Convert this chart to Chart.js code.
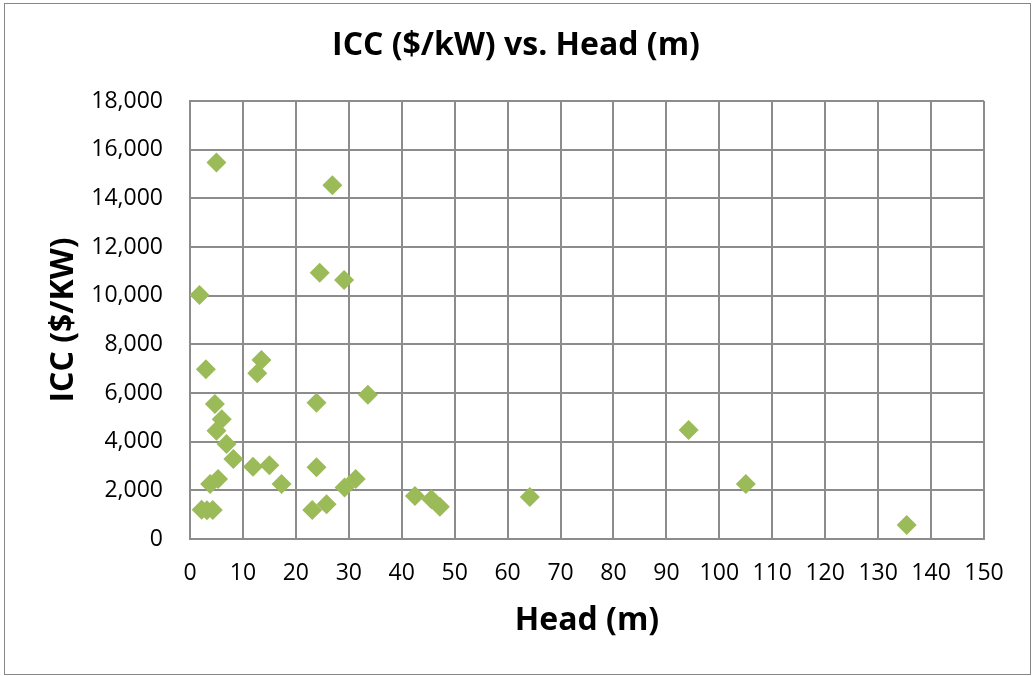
<!DOCTYPE html>
<html>
<head>
<meta charset="utf-8">
<script src="https://cdn.jsdelivr.net/npm/chart.js@4/dist/chart.umd.min.js"></script>
<style>
  html, body { margin: 0; padding: 0; background: #ffffff; }
  #wrap { position: relative; width: 1032px; height: 676px; }
  canvas { display: block; }
</style>
</head>
<body>
<div id="wrap"><canvas id="c" width="1032" height="676"></canvas></div>
<script>
// ---- Data ----
const chartTitle = "ICC ($/kW) vs. Head (m)";
const xAxisTitle = "Head (m)";
const yAxisTitle = "ICC ($/KW)";

const headM = [
  1.8, 3.0, 5.0, 4.7, 6.0, 5.0, 6.9, 8.2, 3.8, 5.3,
  2.2, 3.2, 4.3, 12.7, 13.5, 11.9, 15.0, 17.3, 23.9, 23.9,
  23.1, 25.8, 24.5, 26.9, 29.1, 29.2, 31.3, 33.6, 42.5, 45.6,
  47.2, 64.2, 94.2, 105.0, 135.4
];
const iccPerKW = [
  10030, 6975, 15470, 5550, 4920, 4450, 3905, 3290, 2260, 2465,
  1200, 1180, 1190, 6810, 7360, 2970, 3030, 2260, 5600, 2945,
  1190, 1425, 10945, 14535, 10645, 2120, 2465, 5930, 1767, 1630,
  1330, 1725, 4480, 2260, 575
];

const xMin = 0, xMax = 150, xStep = 10;
const yMin = 0, yMax = 18000, yStep = 2000;

const points = headM.map((h, i) => ({ x: h, y: iccPerKW[i] }));

const borderPlugin = {
  id: 'outerBorder',
  beforeDraw(chart) {
    const ctx = chart.ctx;
    ctx.save();
    ctx.fillStyle = '#ffffff';
    ctx.fillRect(0, 0, chart.width, chart.height);
    ctx.strokeStyle = '#878787';
    ctx.lineWidth = 1;
    ctx.strokeRect(4.5, 3.5, 1026, 671);
    ctx.restore();
  }
};

const FONT = "'Open Sans', 'DejaVu Sans', sans-serif";

new Chart(document.getElementById('c'), {
  type: 'scatter',
  data: {
    datasets: [{
      label: 'ICC',
      data: points,
      xAxisID: 'x',
      yAxisID: 'y',
      pointStyle: 'rectRot',
      pointRadius: 10,
      pointHoverRadius: 10,
      borderWidth: 0,
      backgroundColor: '#9BBB59',
      borderColor: '#9BBB59'
    }]
  },
  options: {
    responsive: false,
    animation: false,
    devicePixelRatio: 1,
    layout: { padding: 0 },
    plugins: {
      legend: { display: false },
      tooltip: { enabled: false },
      title: {
        display: true,
        text: chartTitle,
        color: '#000000',
        font: { family: FONT, size: 32, weight: 'bold', lineHeight: 1.2 },
        padding: { top: 27, bottom: 35.6 }
      }
    },
    scales: {
      x: {
        type: 'linear',
        min: xMin, max: xMax,
        afterFit(scale) { scale.height = 137; },
        ticks: {
          stepSize: xStep,
          color: '#000000',
          padding: 21,
          maxRotation: 0,
          autoSkip: false,
          font: { family: FONT, size: 23 }
        },
        grid: { color: '#8c8c8c', lineWidth: 2, drawTicks: false },
        border: { display: true, color: '#8c8c8c', width: 2 },
        title: {
          display: true,
          text: xAxisTitle,
          color: '#000000',
          font: { family: FONT, size: 32, weight: 'bold', lineHeight: 1.2 },
          padding: { top: 0, bottom: 36 }
        }
      },
      y: {
        type: 'linear',
        position: 'left',
        min: yMin, max: yMax,
        afterFit(scale) { scale.width = 190; },
        ticks: {
          stepSize: yStep,
          color: '#000000',
          padding: 27,
          font: { family: FONT, size: 23 },
          callback: (v) => Number(v).toLocaleString('en-US')
        },
        grid: { color: '#8c8c8c', lineWidth: 2, drawTicks: false },
        border: { display: true, color: '#8c8c8c', width: 2 },
        title: {
          display: true,
          text: yAxisTitle,
          color: '#000000',
          font: { family: FONT, size: 32, weight: 'bold', lineHeight: 1.2 },
          padding: { top: 45, bottom: 0 }
        }
      },
      yRightSpace: {
        type: 'linear',
        position: 'right',
        min: yMin, max: yMax,
        display: true,
        afterFit(scale) { scale.width = 48; },
        ticks: { display: false },
        grid: { display: false, drawTicks: false },
        border: { display: false },
        title: { display: false }
      }
    }
  },
  plugins: [borderPlugin]
});
</script>
</body>
</html>
